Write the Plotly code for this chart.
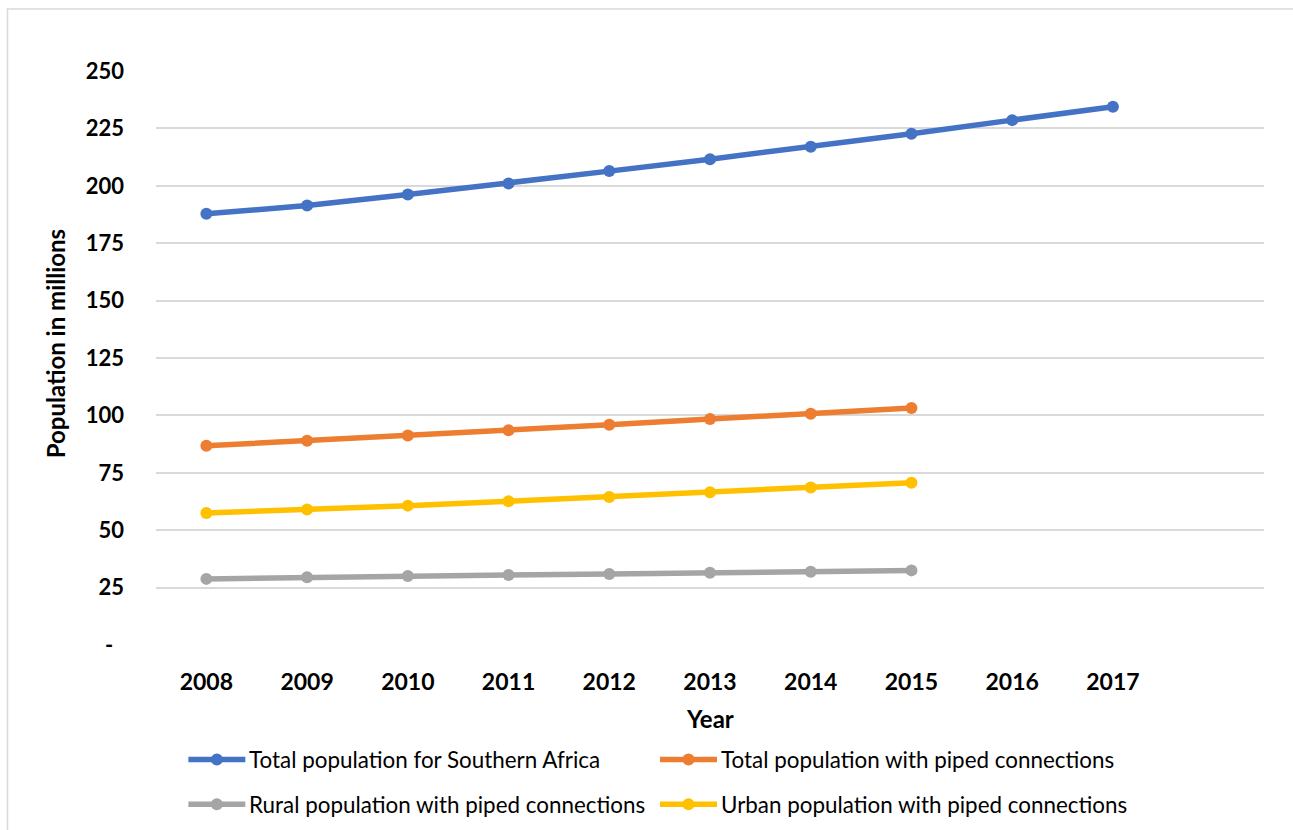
import plotly.graph_objects as go

# Years on the category axis (one empty slot is kept after 2017)
years = [2008, 2009, 2010, 2011, 2012, 2013, 2014, 2015, 2016, 2017]
years_piped = [2008, 2009, 2010, 2011, 2012, 2013, 2014, 2015]

# Population in millions
total_southern_africa = [187.8, 191.4, 196.2, 201.0, 206.4, 211.6, 217.0, 222.7, 228.6, 234.4]
total_piped = [86.8, 89.0, 91.2, 93.5, 95.9, 98.4, 100.7, 103.2]
rural_piped = [28.8, 29.5, 30.1, 30.5, 30.9, 31.5, 31.9, 32.5]
urban_piped = [57.5, 59.0, 60.7, 62.6, 64.5, 66.5, 68.6, 70.7]

y_ticks = [0, 25, 50, 75, 100, 125, 150, 175, 200, 225, 250]
y_tick_text = ["-\u00a0\u00a0"] + [str(v) for v in y_ticks[1:]]

series = [
    ("Total population for Southern Africa", years, total_southern_africa, "#4472C4"),
    ("Total population with piped connections", years_piped, total_piped, "#ED7D31"),
    ("Rural population with piped connections", years_piped, rural_piped, "#A5A5A5"),
    ("Urban population with piped connections", years_piped, urban_piped, "#FFC000"),
]

FONT = "Lato"
W_PX, H_PX = 1293, 830
L, R, T, B = 155.6, 28.6, 71, 184.5
PW = W_PX - L - R
PH = H_PX - T - B


def px(x):
    return (x - L) / PW


def py(y):
    return (H_PX - B - y) / PH


fig = go.Figure()
for name, xs, ys, color in series:
    fig.add_trace(go.Scatter(
        x=xs, y=ys, name=name, mode="lines+markers",
        line=dict(color=color, width=5.5),
        marker=dict(color=color, size=12),
        showlegend=False,
    ))

shapes = []
annotations = []

# Outer chart frame
shapes.append(dict(type="rect", xref="paper", yref="paper",
                   x0=px(7), x1=px(1310), y0=py(9), y1=py(850),
                   line=dict(color="#D9D9D9", width=1.5), fillcolor="rgba(0,0,0,0)",
                   layer="below"))

# Legend: two rows, two columns
legend_pos = [(188, 760), (660, 760), (188, 805), (660, 805)]
for (name, _, _, color), (lx, ly) in zip(series, legend_pos):
    shapes.append(dict(type="line", xref="paper", yref="paper",
                       x0=px(lx), x1=px(lx + 57), y0=py(ly), y1=py(ly),
                       line=dict(color=color, width=5.5)))
    shapes.append(dict(type="circle", xref="paper", yref="paper",
                       x0=px(lx + 22.5), x1=px(lx + 34.5), y0=py(ly - 6), y1=py(ly + 6),
                       line=dict(color=color, width=0), fillcolor=color))
    annotations.append(dict(text=name, xref="paper", yref="paper",
                            x=px(lx + 59), y=py(ly), xanchor="left", yanchor="middle",
                            showarrow=False, font=dict(family=FONT, size=22.4, color="#000000")))

# Axis titles
annotations.append(dict(text="<b>Year</b>", xref="paper", yref="paper",
                        x=px(710), y=py(719), xanchor="center", yanchor="middle",
                        showarrow=False, font=dict(family=FONT, size=24, color="#000000")))
annotations.append(dict(text="<b>Population in millions</b>", xref="paper", yref="paper",
                        x=px(55), y=py(344), xanchor="center", yanchor="middle", textangle=-90,
                        showarrow=False, font=dict(family=FONT, size=24, color="#000000")))

fig.update_layout(
    width=W_PX, height=H_PX,
    margin=dict(l=L, r=R, t=T, b=B),
    paper_bgcolor="#FFFFFF", plot_bgcolor="#FFFFFF",
    font=dict(family=FONT, color="#000000"),
    shapes=shapes, annotations=annotations,
    showlegend=False,
)
fig.update_xaxes(
    range=[2007.5, 2018.5], tickmode="array", tickvals=years,
    ticktext=[f"<b>{y}</b>" for y in years],
    showgrid=False, zeroline=False, showline=False, ticks="",
    ticklabelstandoff=21,
    tickfont=dict(family=FONT, size=23, color="#000000"),
)
fig.update_yaxes(
    range=[0, 250], tickmode="array", tickvals=y_ticks,
    ticktext=[f"<b>{t}</b>" for t in y_tick_text],
    showgrid=True, gridcolor="#D9D9D9", gridwidth=1.5,
    zeroline=False, showline=False, ticks="",
    ticklabelstandoff=31,
    tickfont=dict(family=FONT, size=22, color="#000000"),
)

fig.write_html("out.html")
